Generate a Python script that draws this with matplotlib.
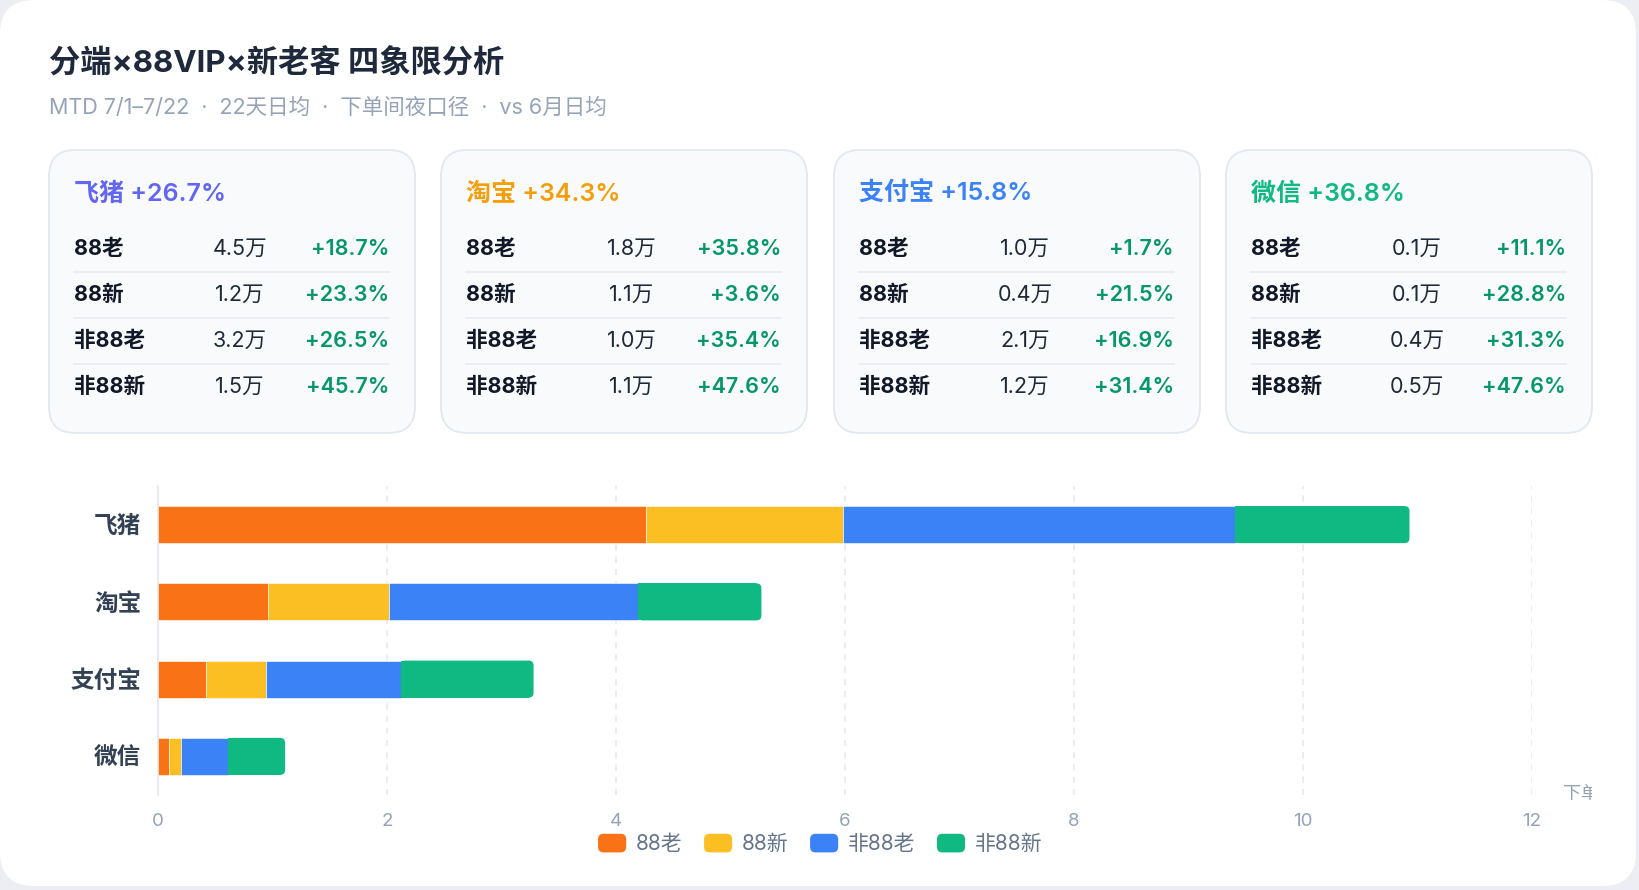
import matplotlib
matplotlib.use("Agg")
import matplotlib.pyplot as plt
from matplotlib.patches import FancyBboxPatch, Patch, Rectangle
from matplotlib.legend_handler import HandlerPatch
from matplotlib.lines import Line2D
import matplotlib.transforms as mtransforms

plt.rcParams['font.family'] = ['Inter', 'Noto Sans CJK SC', 'DejaVu Sans']

# ---- data ----
title = "分端×88VIP×新老客 四象限分析"
subtitle = "MTD 7/1–7/22  ·  22天日均  ·  下单间夜口径  ·  vs 6月日均"

platforms = ['飞猪', '淘宝', '支付宝', '微信']
platform_growth = [26.7, 34.3, 15.8, 36.8]
platform_colors = ['#6366f1', '#f59e0b', '#3b82f6', '#10b981']

segments = ['88老', '88新', '非88老', '非88新']
seg_colors = ['#f97316', '#fbbf24', '#3b82f6', '#10b981']

# card table: value (万) and growth (%) per platform, rows follow `segments`
card_vals = [
    [4.5, 1.2, 3.2, 1.5],
    [1.8, 1.1, 1.0, 1.1],
    [1.0, 0.4, 2.1, 1.2],
    [0.1, 0.1, 0.4, 0.5],
]
card_pct = [
    [18.7, 23.3, 26.5, 45.7],
    [35.8, 3.6, 35.4, 47.6],
    [1.7, 21.5, 16.9, 31.4],
    [11.1, 28.8, 31.3, 47.6],
]

# stacked bar values, one list per segment (order of platforms)
bar_88old = [4.26, 0.96, 0.42, 0.10]
bar_88new = [1.72, 1.06, 0.52, 0.10]
bar_non88old = [3.43, 2.17, 1.18, 0.41]
bar_non88new = [1.52, 1.08, 1.16, 0.50]
bar_series = [bar_88old, bar_88new, bar_non88old, bar_non88new]

xticks = [0, 2, 4, 6, 8, 10, 12]
x_name = "下单间夜（万）"

# ---- figure ----
W, H = 1640, 890
fig = plt.figure(figsize=(W / 100, H / 100), dpi=100)
fig.patch.set_facecolor('#eceef3')

# top-left pixel coordinates
pxt = mtransforms.Affine2D().scale(1 / W, -1 / H).translate(0, 1) + fig.transFigure

bg = FancyBboxPatch((0, 0), W - 4, H - 4, boxstyle="round,pad=0,rounding_size=34",
                    transform=pxt, facecolor='white', edgecolor='none', zorder=0)
fig.add_artist(bg)

fig.text(49, 63, title, transform=pxt, fontsize=22.5, fontweight='bold',
         color='#1e293b', va='center', ha='left')
fig.text(49, 108, subtitle, transform=pxt, fontsize=15.5, color='#94a3b8',
         va='center', ha='left')

# ---- cards ----
card_left = [49, 441, 834, 1226]
card_w, card_top, card_bot = 366, 150, 433
row_y = [249, 295, 341, 387]
for i, name in enumerate(platforms):
    x0 = card_left[i]
    card = FancyBboxPatch((x0, card_top), card_w, card_bot - card_top,
                          boxstyle="round,pad=0,rounding_size=26", transform=pxt,
                          facecolor='#f8fafc', edgecolor='#e2e8f0', linewidth=1.3, zorder=1)
    fig.add_artist(card)
    fig.text(x0 + 25, 194, f"{name} +{platform_growth[i]:.1f}%", transform=pxt,
             fontsize=18, fontweight='semibold', color=platform_colors[i],
             va='center', ha='left', zorder=2)
    for j, seg in enumerate(segments):
        y = row_y[j]
        fig.text(x0 + 25, y, seg, transform=pxt, fontsize=15.5, fontweight='bold',
                 color='#111827', va='center', ha='left', zorder=2)
        fig.text(x0 + 191, y, f"{card_vals[i][j]:.1f}万", transform=pxt, fontsize=15.5,
                 color='#1f2937', va='center', ha='center', zorder=2)
        fig.text(x0 + 340, y, f"+{card_pct[i][j]:.1f}%", transform=pxt, fontsize=15.5,
                 fontweight='semibold', color='#059669', va='center', ha='right', zorder=2)
        if j < len(segments) - 1:
            fig.add_artist(Line2D([x0 + 25, x0 + 340], [y + 23, y + 23], transform=pxt,
                                  color='#e8ecf1', linewidth=1.2, zorder=2))

# ---- stacked bar chart ----
ax_l, ax_r, ax_t, ax_b = 158, 1532, 486, 795
ax = fig.add_axes([ax_l / W, 1 - ax_b / H, (ax_r - ax_l) / W, (ax_b - ax_t) / H])
ax.set_facecolor('none')
ax.set_xlim(0, 12)
ax.set_ylim(len(platforms) - 0.5, -0.5)

bar_h = 0.48
ypos = list(range(len(platforms)))
px_per_x = (ax_r - ax_l) / 12
px_per_y = (ax_b - ax_t) / len(platforms)
r_x = 5 / px_per_x
left = [0.0] * len(platforms)
for k, vals in enumerate(bar_series):
    last = k == len(bar_series) - 1
    if not last:
        ax.barh(ypos, vals, left=left, height=bar_h, color=seg_colors[k],
                edgecolor='white', linewidth=0.4, zorder=3)
    else:
        ax.barh(ypos, [v - r_x for v in vals], left=left, height=bar_h,
                color=seg_colors[k], edgecolor='none', zorder=3)
        for yi, v, l0 in zip(ypos, vals, left):
            ax.add_patch(FancyBboxPatch((l0, yi - bar_h / 2), v, bar_h,
                                        boxstyle=f"round,pad=0,rounding_size={r_x}",
                                        mutation_aspect=px_per_x / px_per_y,
                                        facecolor=seg_colors[k], edgecolor='none', zorder=3))
    left = [a + b for a, b in zip(left, vals)]

ax.set_yticks(ypos)
ax.set_yticklabels(platforms, fontsize=17, fontweight='bold', color='#334155')
ax.set_xticks(xticks)
ax.set_xticklabels([str(t) for t in xticks], fontsize=13.5, color='#94a3b8')
ax.tick_params(axis='both', length=0)
ax.tick_params(axis='x', pad=13)
ax.tick_params(axis='y', pad=12)
for t in xticks[1:]:
    ax.axvline(t, color='#e5e7eb', linewidth=1.1, linestyle=(0, (4, 4)), zorder=1)
for s in ['top', 'right', 'bottom']:
    ax.spines[s].set_visible(False)
ax.spines['left'].set_color('#e2e8f0')
ax.spines['left'].set_linewidth(1.2)

# axis name, cut by the chart panel edge as in the source
name = fig.text(1563, 795, x_name, transform=pxt, fontsize=13, color='#94a3b8',
                va='center', ha='left')
clip = Rectangle((0, 0), 1592, H, transform=pxt)
name.set_clip_path(clip)


class RoundHandler(HandlerPatch):
    def create_artists(self, legend, orig_handle, xdescent, ydescent, width, height,
                       fontsize, trans):
        p = FancyBboxPatch((-xdescent, -ydescent), width, height,
                           boxstyle="round,pad=0,rounding_size=4",
                           facecolor=orig_handle.get_facecolor(), edgecolor='none',
                           transform=trans)
        return [p]


handles = [Patch(facecolor=c, label=s) for c, s in zip(seg_colors, segments)]
leg = fig.legend(handles=handles, loc='center', bbox_to_anchor=(820 / W, 1 - 844 / H),
                 ncol=4, frameon=False, fontsize=15, handlelength=1.35, handleheight=1.0,
                 handletextpad=0.45, columnspacing=1.05, borderpad=0,
                 handler_map={Patch: RoundHandler()})
for t in leg.get_texts():
    t.set_color('#64748b')

fig.savefig('out.png', dpi=100, facecolor=fig.get_facecolor())
